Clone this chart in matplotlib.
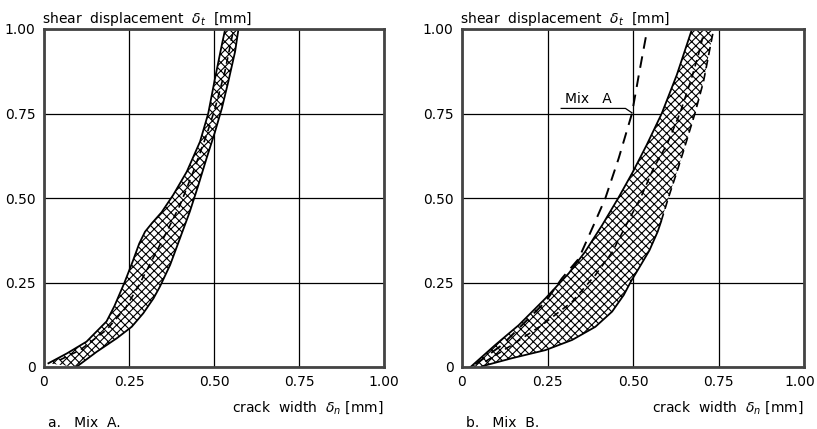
import numpy as np
import matplotlib
matplotlib.use("Agg")
from matplotlib import pyplot as plt
from matplotlib.transforms import ScaledTranslation

plt.rcParams['font.family'] = ['DejaVu Sans']
plt.rcParams['hatch.linewidth'] = 0.8
plt.rcParams['mathtext.fontset'] = 'dejavusans'

# ---------- data ----------
ticks = [0, 0.25, 0.50, 0.75, 1.00]
tick_labels = ['0', '0.25', '0.50', '0.75', '1.00']

# a. Mix A : band limits and mean curve
a_upper_x = [0.013, 0.067, 0.125, 0.184, 0.207, 0.236, 0.260, 0.280, 0.297, 0.317, 0.346, 0.380, 0.420, 0.459, 0.483, 0.503, 0.523, 0.533]
a_upper_y = [0.011, 0.040, 0.075, 0.135, 0.180, 0.248, 0.310, 0.365, 0.400, 0.425, 0.458, 0.509, 0.578, 0.667, 0.750, 0.854, 0.953, 1.000]
a_lower_x = [0.095, 0.155, 0.214, 0.258, 0.292, 0.322, 0.341, 0.371, 0.400, 0.429, 0.454, 0.478, 0.503, 0.523, 0.542, 0.562, 0.572]
a_lower_y = [0.000, 0.045, 0.085, 0.119, 0.159, 0.203, 0.238, 0.302, 0.381, 0.460, 0.538, 0.617, 0.696, 0.765, 0.844, 0.933, 1.000]
a_mean_x = [0.047, 0.106, 0.184, 0.240, 0.278, 0.312, 0.361, 0.400, 0.439, 0.478, 0.503, 0.532, 0.552, 0.558]
a_mean_y = [0.021, 0.050, 0.110, 0.175, 0.240, 0.305, 0.400, 0.479, 0.578, 0.686, 0.765, 0.874, 0.972, 1.000]

# b. Mix B : band limits, dashed upper part of the right limit, mean curve
b_upper_x = [0.025, 0.097, 0.166, 0.244, 0.312, 0.360, 0.410, 0.457, 0.500, 0.540, 0.584, 0.628, 0.672]
b_upper_y = [0.000, 0.065, 0.124, 0.203, 0.277, 0.341, 0.420, 0.500, 0.578, 0.657, 0.750, 0.864, 0.998]
b_lower_x = [0.058, 0.146, 0.244, 0.322, 0.390, 0.439, 0.473, 0.495, 0.520, 0.548, 0.572, 0.582]
b_lower_y = [0.002, 0.026, 0.050, 0.080, 0.119, 0.164, 0.213, 0.255, 0.297, 0.345, 0.400, 0.430]
b_edge_x = [0.582, 0.603, 0.626, 0.647, 0.681, 0.706, 0.735]
b_edge_y = [0.430, 0.499, 0.570, 0.637, 0.750, 0.844, 0.995]
b_mean_x = [0.068, 0.146, 0.234, 0.322, 0.390, 0.440, 0.480, 0.522, 0.560, 0.600, 0.637, 0.670, 0.691, 0.705]
b_mean_y = [0.016, 0.065, 0.124, 0.193, 0.272, 0.341, 0.420, 0.500, 0.588, 0.660, 0.750, 0.850, 0.923, 0.980]

# Mix A mean curve as redrawn in panel b
ref_a_x = [0.039, 0.117, 0.244, 0.292, 0.341, 0.385, 0.419, 0.458, 0.497, 0.517, 0.541]
ref_a_y = [0.008, 0.065, 0.193, 0.262, 0.320, 0.420, 0.499, 0.617, 0.750, 0.864, 0.995]


def band(ax, ux, uy, lx, ly):
    # polygon: upper limit going up, lower limit coming back down
    px = list(ux) + list(lx)[::-1]
    py = list(uy) + list(ly)[::-1]
    ax.fill(px, py, facecolor='white', edgecolor='black', hatch='xxxx', linewidth=0)


def setup(ax, label):
    ax.set_xlim(0, 1)
    ax.set_ylim(0, 1)
    ax.set_xticks(ticks)
    ax.set_yticks(ticks)
    ax.set_xticklabels(tick_labels, fontsize=10)
    ax.set_yticklabels(tick_labels, fontsize=10)
    ax.tick_params(length=0, pad=6)
    ax.grid(True, color='black', linewidth=0.9)
    ax.set_axisbelow(True)
    for s in ax.spines.values():
        s.set_linewidth(2.0)
        s.set_color('#444444')
    ax.text(-0.005, 1.03, r'shear  displacement  $\delta_t$  [mm]', transform=ax.transAxes,
            ha='left', va='center', fontsize=10)
    ax.text(1.0, -0.121, r'crack  width  $\delta_n$ [mm]', transform=ax.transAxes,
            ha='right', va='center', fontsize=10)
    ax.text(0.012, -0.166, label, transform=ax.transAxes, ha='left', va='center', fontsize=10)


fig = plt.figure(figsize=(8.17, 4.29), dpi=100)
ax1 = fig.add_axes([44 / 817, 62 / 429, 340 / 817, 338 / 429])
ax2 = fig.add_axes([462 / 817, 62 / 429, 342 / 817, 338 / 429])

# a. Mix A
setup(ax1, 'a.   Mix  A.')
band(ax1, a_upper_x, a_upper_y, a_lower_x, a_lower_y)
ax1.plot(a_upper_x, a_upper_y, color='black', linewidth=1.3)
ax1.plot(a_lower_x, a_lower_y, color='black', linewidth=1.3)
ax1.plot(a_mean_x, a_mean_y, color='black', linewidth=1.2, dashes=(4, 3))

# b. Mix B
setup(ax2, 'b.   Mix  B.')
band(ax2, b_upper_x, b_upper_y, b_lower_x + b_edge_x[1:], b_lower_y + b_edge_y[1:])
ax2.plot(b_upper_x, b_upper_y, color='black', linewidth=1.3)
ax2.plot(b_lower_x, b_lower_y, color='black', linewidth=1.3)
ax2.plot(b_edge_x, b_edge_y, color='black', linewidth=1.2, dashes=(5, 3))
ax2.plot(b_mean_x, b_mean_y, color='black', linewidth=1.2, dashes=(4, 3))
ax2.plot(ref_a_x, ref_a_y, color='black', linewidth=1.4, dashes=(6, 4))
# Mix A leader line
ax2.plot([0.29, 0.478, 0.497], [0.765, 0.765, 0.752], color='black', linewidth=0.9)
ax2.text(0.30, 0.772, 'Mix   A', ha='left', va='bottom', fontsize=10)

# keep the last tick label inside the figure
last = ax2.get_xticklabels()[-1]
last.set_transform(last.get_transform() + ScaledTranslation(-4 / 100, 0, fig.dpi_scale_trans))

fig.savefig('out.png', dpi=100)
